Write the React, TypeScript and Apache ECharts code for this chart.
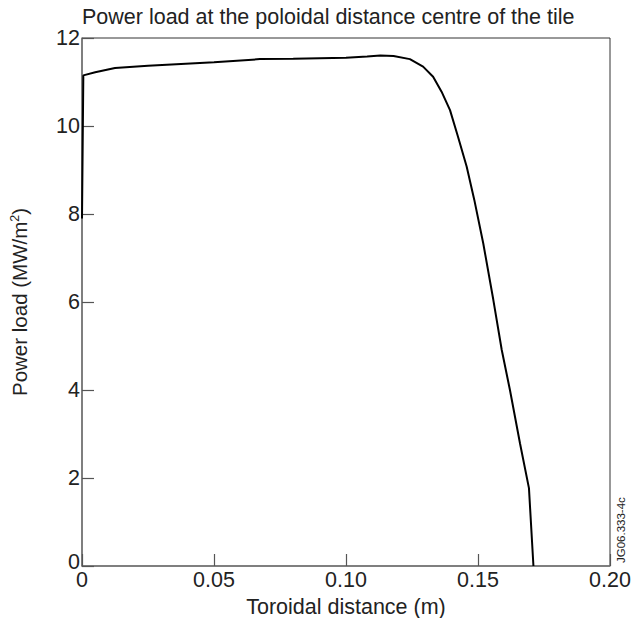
import React, { useEffect, useRef } from "react";
import * as echarts from "echarts";

const xValues = [0, 0.0005, 0.005, 0.0125, 0.025, 0.05, 0.0674, 0.08, 0.1, 0.108, 0.113, 0.118, 0.1242, 0.1292, 0.133, 0.1362, 0.1394, 0.1424, 0.1457, 0.1486, 0.152, 0.1558, 0.159, 0.1621, 0.1659, 0.1693, 0.171];
const yValues = [7.9, 11.15, 11.22, 11.32, 11.37, 11.45, 11.52, 11.53, 11.55, 11.58, 11.6, 11.59, 11.52, 11.35, 11.12, 10.78, 10.36, 9.76, 9.08, 8.32, 7.33, 6.05, 4.91, 4.0, 2.79, 1.77, 0];
const xTickLabels = ["0", "0.05", "0.10", "0.15", "0.20"];

const FONT = "'Liberation Sans', Arial, Helvetica, sans-serif";

export default function App() {
  const ref = useRef<HTMLDivElement>(null);
  useEffect(() => {
    if (!ref.current) return;
    const chart = echarts.init(ref.current, null, { renderer: "svg" });
    const data = xValues.map((x, i) => [x, yValues[i]]);
    chart.setOption({
      animation: false,
      backgroundColor: "#fff",
      textStyle: { fontFamily: FONT },
      title: {
        text: "Power load at the poloidal distance centre of the tile",
        left: 82,
        top: 6,
        padding: 0,
        textStyle: { fontFamily: FONT, fontSize: 21.5, fontWeight: "normal", color: "#222" },
      },
      grid: {
        left: 82,
        top: 38,
        width: 528,
        height: 528,
        outerBoundsMode: "none",
        containLabel: false,
        show: true,
        borderColor: "#333",
        borderWidth: 1,
        backgroundColor: "transparent",
      },
      xAxis: {
        type: "value",
        min: 0,
        max: 0.2,
        interval: 0.05,
        name: "Toroidal distance (m)",
        nameLocation: "middle",
        nameGap: 28,
        nameTextStyle: { fontFamily: FONT, fontSize: 21.5, color: "#222" },
        axisLine: { show: true, onZero: false, lineStyle: { color: "#777", width: 1.5 } },
        axisTick: { show: true, inside: true, length: 12, lineStyle: { color: "#555", width: 1.2 } },
        axisLabel: {
          fontFamily: FONT,
          fontSize: 21.5,
          lineHeight: 16,
          color: "#222",
          margin: 6,
          formatter: (v: number) => xTickLabels[Math.round(v / 0.05)] ?? "",
        },
        splitLine: { show: false },
      },
      yAxis: {
        type: "value",
        min: 0,
        max: 12,
        interval: 2,
        name: "Power load (MW/m{sup|2})",
        nameLocation: "middle",
        nameGap: 51,
        nameRotate: 90,
        nameTextStyle: {
          fontFamily: FONT,
          fontSize: 20.5,
          color: "#222",
          rich: {
            sup: { fontFamily: FONT, fontSize: 12.5, color: "#222", verticalAlign: "top", padding: [0, 0, 10, 0] },
          },
        },
        axisLine: { show: true, onZero: false, lineStyle: { color: "#777", width: 1.5 } },
        axisTick: { show: true, inside: true, length: 12, lineStyle: { color: "#555", width: 1.2 } },
        axisLabel: {
          fontFamily: FONT,
          fontSize: 21.5,
          lineHeight: 14,
          color: "#222",
          margin: 2,
          formatter: (v: number) => (v === 0 ? "{z|0}" : String(v)),
          rich: {
            z: { fontFamily: FONT, fontSize: 21.5, lineHeight: 14, color: "#222", padding: [0, 0, 8, 0] },
          },
        },
        splitLine: { show: false },
      },
      graphic: [
        {
          type: "text",
          x: 615,
          y: 563,
          rotation: Math.PI / 2,
          style: {
            text: "JG06.333-4c",
            fontFamily: FONT,
            fontSize: 11.5,
            fill: "#222",
            align: "left",
            verticalAlign: "top",
          },
        },
      ],
      series: [
        {
          type: "line",
          data,
          showSymbol: false,
          symbol: "none",
          lineStyle: { color: "#000", width: 2 },
          smooth: false,
        },
      ],
    });
    return () => chart.dispose();
  }, []);
  return (
    <div
      ref={ref}
      style={{ position: "absolute", left: 0, top: 0, width: 633, height: 618 }}
    />
  );
}
